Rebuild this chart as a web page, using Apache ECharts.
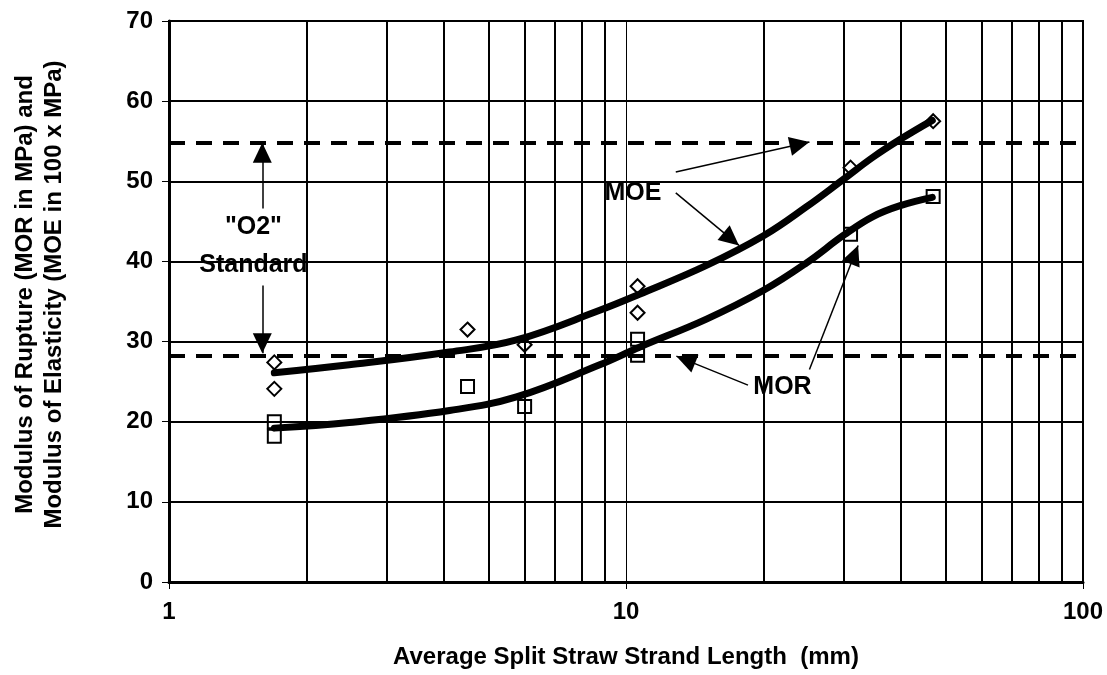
<!DOCTYPE html>
<html>
<head>
<meta charset="utf-8">
<script src="https://cdn.jsdelivr.net/npm/echarts@6/dist/echarts.min.js"></script>
<style>
html,body{margin:0;padding:0;background:#fff;}
#chart{width:1107px;height:675px;}
</style>
</head>
<body>
<div id="chart"></div>
<script>
// ---- data ----
var xTickLabels = ['1', '10', '100'];
var yTicks = [0, 10, 20, 30, 40, 50, 60, 70];
var xGridValues = [2, 3, 4, 5, 6, 7, 8, 9, 10, 20, 30, 40, 50, 60, 70, 80, 90];

var moeX = [1.7, 1.7, 4.5, 6.0, 10.6, 10.6, 31.0, 47.0];
var moeY = [27.4, 24.1, 31.5, 29.6, 36.9, 33.6, 51.7, 57.5];
var morX = [1.7, 1.7, 4.5, 6.0, 10.6, 10.6, 31.0, 47.0];
var morY = [20.0, 18.2, 24.4, 21.9, 30.3, 28.3, 43.4, 48.1];

var fitX    = [1.7, 2.48, 4.11, 5.76, 8.76, 10.7, 15.0, 20.0, 24.8, 30.0, 34.7, 40.0, 46.8];
var moeFitY = [26.1, 27.1, 28.7, 30.2, 33.9, 35.9, 39.5, 43.2, 46.8, 50.3, 53.0, 55.3, 57.6];
var morFitY = [19.2, 19.9, 21.4, 23.1, 27.1, 29.3, 32.8, 36.4, 39.8, 43.3, 45.6, 47.0, 48.0];

var o2Standard = [28.2, 54.8];

// annotation arrows: [fromX, fromY, tipX, tipY]
var arrows = [
  [1.6, 46.6, 1.6, 54.8],
  [1.6, 37.0, 1.6, 28.55],
  [12.85, 51.16, 25.2, 54.9],
  [12.85, 48.55, 17.67, 42.0],
  [18.49, 24.56, 12.89, 28.18],
  [25.2, 26.52, 32.2, 42.0]
];
// annotation texts: [x, y, text]
var notes = [
  [1.53, 41.9, '"O2"\nStandard'],
  [10.36, 48.57, 'MOE'],
  [22.0, 24.29, 'MOR']
];

// ---- chart ----
var FONT = '"Liberation Sans", Arial, Helvetica, sans-serif';
var chart = echarts.init(document.getElementById('chart'), null, {renderer: 'canvas'});

function pairs(xs, ys) { return xs.map(function (x, i) { return [x, ys[i]]; }); }

var option = {
  animation: false,
  backgroundColor: '#fff',
  grid: {
    left: 169, right: 24, top: 21, bottom: 93,
    show: true, borderColor: '#000', borderWidth: 2, backgroundColor: 'transparent'
  },
  xAxis: {
    type: 'log', logBase: 10, min: 1, max: 100,
    name: 'Average Split Straw Strand Length  (mm)',
    nameLocation: 'middle', nameGap: 63,
    nameTextStyle: {fontFamily: FONT, fontWeight: 'bold', fontSize: 24, color: '#000'},
    axisLine: {show: true, lineStyle: {color: '#000', width: 3}},
    axisTick: {show: true, length: 7, lineStyle: {color: '#000', width: 1}},
    axisLabel: {
      margin: 18, fontFamily: FONT, fontWeight: 'bold', fontSize: 24, color: '#000',
      formatter: function (v) { var i = Math.round(Math.log(v) / Math.LN10); return xTickLabels[i] || ''; }
    },
    splitLine: {show: false}
  },
  yAxis: {
    type: 'value', min: yTicks[0], max: yTicks[yTicks.length - 1], interval: 10,
    name: 'Modulus of Rupture (MOR in MPa) and\nModulus of Elasticity (MOE in 100 x MPa)',
    nameLocation: 'middle', nameRotate: 90, nameGap: 100,
    nameTextStyle: {fontFamily: FONT, fontWeight: 'bold', fontSize: 24, color: '#000', lineHeight: 29, align: 'center', padding: [0, 0, 0, 14]},
    axisLine: {show: true, lineStyle: {color: '#000', width: 3}},
    axisTick: {show: true, length: 7, lineStyle: {color: '#000', width: 1}},
    axisLabel: {margin: 16, fontFamily: FONT, fontWeight: 'bold', fontSize: 24, color: '#000'},
    splitLine: {show: true, lineStyle: {color: '#000', width: 2}}
  },
  series: [
    {
      name: 'grid', type: 'line', data: [], z: 1, silent: true,
      markLine: {
        silent: true, symbol: ['none', 'none'], animation: false,
        label: {show: false},
        lineStyle: {color: '#000', width: 2, type: 'solid'},
        data: xGridValues.map(function (v) {
          return v === 10 ? {xAxis: v, lineStyle: {width: 1, color: '#000', type: 'solid'}} : {xAxis: v};
        })
      }
    },
    {
      name: 'standard', type: 'line', data: [], z: 2, silent: true,
      markLine: {
        silent: true, symbol: ['none', 'none'], animation: false,
        label: {show: false},
        lineStyle: {color: '#000', width: 4, type: [16, 11]},
        data: o2Standard.map(function (v) { return {yAxis: v}; })
      }
    },
    {
      name: 'MOE fit', type: 'line', z: 4, smooth: 0.4, showSymbol: false, symbol: 'none',
      lineStyle: {color: '#000', width: 7, cap: 'round'},
      data: pairs(fitX, moeFitY)
    },
    {
      name: 'MOR fit', type: 'line', z: 4, smooth: 0.4, showSymbol: false, symbol: 'none',
      lineStyle: {color: '#000', width: 7, cap: 'round'},
      data: pairs(fitX, morFitY)
    },
    {
      name: 'MOE', type: 'scatter', z: 5, symbol: 'diamond', symbolSize: 14,
      itemStyle: {color: 'rgba(0,0,0,0)', borderColor: '#000', borderWidth: 2, opacity: 1},
      data: pairs(moeX, moeY)
    },
    {
      name: 'MOR', type: 'scatter', z: 5, symbol: 'rect', symbolSize: 13,
      itemStyle: {color: 'rgba(0,0,0,0)', borderColor: '#000', borderWidth: 2, opacity: 1},
      data: pairs(morX, morY)
    },
    {
      name: 'arrows', type: 'line', data: [], z: 6, silent: true,
      markLine: {
        silent: true, animation: false,
        symbol: ['none', 'triangle'], symbolSize: [19, 20], symbolOffset: [0, [0, 10]],
        label: {show: false},
        lineStyle: {color: '#000', width: 1.5, type: 'solid'},
        itemStyle: {color: '#000'},
        data: arrows.map(function (a) { return [{coord: [a[0], a[1]]}, {coord: [a[2], a[3]]}]; })
      }
    },
    {
      name: 'notes', type: 'scatter', z: 7, silent: true, symbolSize: 1,
      itemStyle: {color: 'rgba(0,0,0,0)', opacity: 1},
      label: {
        show: true, position: 'inside', color: '#000', opacity: 1,
        textBorderWidth: 0, textBorderColor: 'transparent',
        fontFamily: FONT, fontWeight: 'bold',
        fontSize: 25, lineHeight: 38, align: 'center', verticalAlign: 'middle',
        formatter: function (p) { return p.data[2]; }
      },
      data: notes
    }
  ]
};
chart.setOption(option);
</script>
</body>
</html>
